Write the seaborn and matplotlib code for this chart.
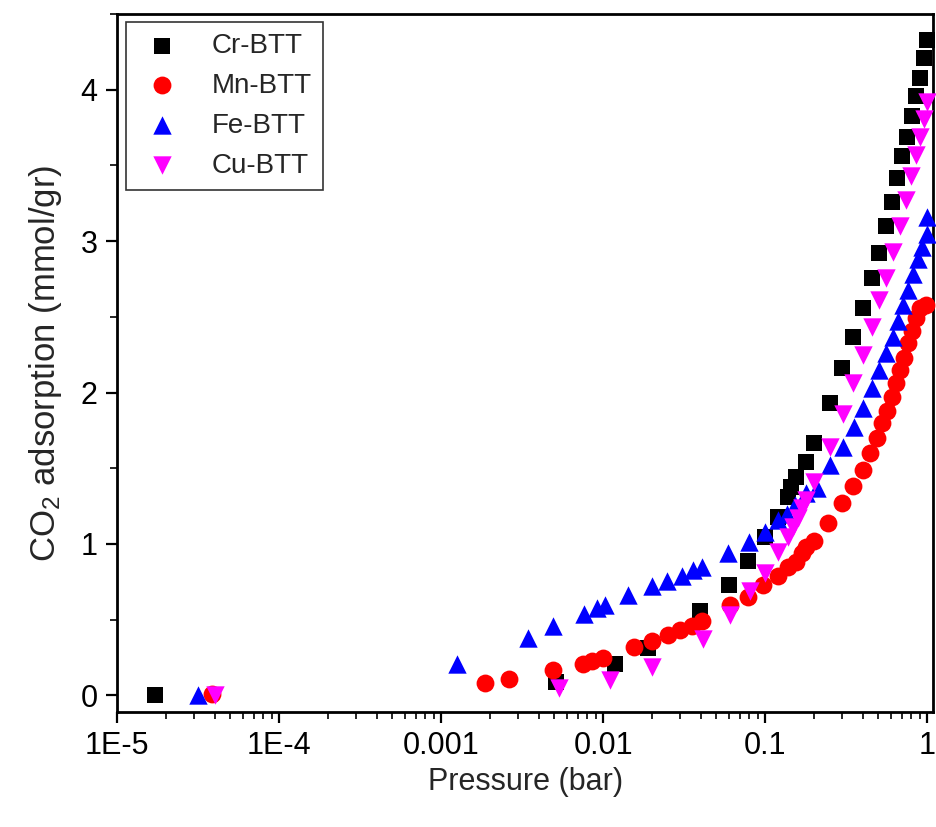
import numpy as np
import pandas as pd
import seaborn as sns
import matplotlib.pyplot as plt
from matplotlib.ticker import LogLocator, MultipleLocator, NullFormatter

# CO2 adsorption isotherms (pressure in bar, uptake in mmol/gr)
cr_p = [1.72e-5, 0.0051, 0.0119, 0.019, 0.0397, 0.060, 0.0785, 0.10, 0.12, 0.138, 0.145,
        0.156, 0.18, 0.20, 0.252, 0.299, 0.349, 0.403, 0.457, 0.506, 0.558, 0.608, 0.652,
        0.70, 0.75, 0.807, 0.855, 0.905, 0.955, 1.0]
cr_q = [0.0, 0.09, 0.205, 0.31, 0.555, 0.727, 0.885, 1.045, 1.18, 1.31, 1.375,
        1.44, 1.54, 1.665, 1.93, 2.16, 2.37, 2.56, 2.76, 2.92, 3.10, 3.26, 3.42,
        3.56, 3.69, 3.83, 3.96, 4.08, 4.21, 4.33]

mn_p = [3.85e-5, 0.00187, 0.00263, 0.0049, 0.0075, 0.0086, 0.010, 0.0155, 0.020, 0.025,
        0.0298, 0.0354, 0.041, 0.061, 0.0785, 0.097, 0.12, 0.138, 0.156, 0.17, 0.18, 0.20,
        0.245, 0.30, 0.35, 0.40, 0.445, 0.491, 0.527, 0.566, 0.608, 0.644, 0.681, 0.721,
        0.764, 0.807, 0.855, 0.905, 0.99]
mn_q = [0.01, 0.08, 0.105, 0.165, 0.21, 0.23, 0.25, 0.32, 0.36, 0.40,
        0.43, 0.46, 0.49, 0.60, 0.65, 0.73, 0.79, 0.85, 0.88, 0.94, 0.98, 1.02,
        1.14, 1.27, 1.38, 1.49, 1.60, 1.70, 1.80, 1.88, 1.97, 2.06, 2.15, 2.23,
        2.33, 2.41, 2.49, 2.56, 2.58]

fe_p = [3.16e-5, 0.00126, 0.00344, 0.0049, 0.00764, 0.00919, 0.0103, 0.0143, 0.020, 0.0248,
        0.0308, 0.036, 0.041, 0.059, 0.0796, 0.10, 0.12, 0.137, 0.153, 0.18, 0.21, 0.252,
        0.303, 0.354, 0.403, 0.457, 0.506, 0.558, 0.617, 0.662, 0.711, 0.764, 0.82, 0.88,
        0.93, 1.0, 1.0]
fe_q = [0.0, 0.21, 0.38, 0.46, 0.54, 0.575, 0.595, 0.66, 0.72, 0.755,
        0.79, 0.83, 0.85, 0.94, 1.01, 1.08, 1.16, 1.20, 1.26, 1.34, 1.37, 1.52,
        1.64, 1.77, 1.90, 2.03, 2.15, 2.26, 2.37, 2.47, 2.58, 2.68, 2.78, 2.88,
        2.96, 3.05, 3.16]

cu_p = [4.03e-5, 0.00534, 0.011, 0.020, 0.0414, 0.061, 0.0807, 0.10, 0.12, 0.138, 0.148,
        0.16, 0.17, 0.18, 0.20, 0.252, 0.303, 0.349, 0.403, 0.457, 0.506, 0.558, 0.617,
        0.68, 0.74, 0.80, 0.855, 0.905, 0.96, 1.0]
cu_q = [0.0, 0.05, 0.10, 0.19, 0.375, 0.53, 0.69, 0.81, 0.945, 1.045, 1.11,
        1.17, 1.235, 1.29, 1.41, 1.64, 1.86, 2.06, 2.25, 2.43, 2.61, 2.76, 2.93,
        3.10, 3.27, 3.43, 3.57, 3.69, 3.81, 3.92]

materials = ["Cr-BTT", "Mn-BTT", "Fe-BTT", "Cu-BTT"]
x_ticks = [1e-5, 1e-4, 1e-3, 1e-2, 1e-1, 1]
x_tick_labels = ["1E-5", "1E-4", "0.001", "0.01", "0.1", "1"]

df = pd.concat([
    pd.DataFrame({"p": cr_p, "q": cr_q, "material": "Cr-BTT"}),
    pd.DataFrame({"p": mn_p, "q": mn_q, "material": "Mn-BTT"}),
    pd.DataFrame({"p": fe_p, "q": fe_q, "material": "Fe-BTT"}),
    pd.DataFrame({"p": cu_p, "q": cu_q, "material": "Cu-BTT"}),
])

sns.set_theme(style="ticks")
plt.rcParams["font.family"] = ["Liberation Sans", "DejaVu Sans"]
plt.rcParams["mathtext.default"] = "regular"

palette = {"Cr-BTT": "#000000", "Mn-BTT": "#ff0000", "Fe-BTT": "#0000ff", "Cu-BTT": "#ff00ff"}
markers = {"Cr-BTT": "s", "Mn-BTT": "o", "Fe-BTT": "^", "Cu-BTT": "v"}
sizes = {"Cr-BTT": 140, "Mn-BTT": 165, "Fe-BTT": 175, "Cu-BTT": 175}

fig = plt.figure(figsize=(9.36, 8.27), dpi=100)
ax = fig.add_axes([0.125, 0.139, 0.872, 0.844])

for m in materials:
    sns.scatterplot(data=df[df["material"] == m], x="p", y="q", color=palette[m],
                    marker=markers[m], s=sizes[m], linewidth=0, label=m, ax=ax,
                    clip_on=False, zorder=3)

ax.set_xscale("log")
ax.set_xlim(1e-5, 1.09)
ax.set_ylim(-0.11, 4.5)
ax.set_xticks(x_ticks)
ax.set_xticklabels(x_tick_labels)
ax.xaxis.set_minor_locator(LogLocator(base=10, subs=np.arange(2, 10)))
ax.xaxis.set_minor_formatter(NullFormatter())
ax.yaxis.set_major_locator(MultipleLocator(1))
ax.yaxis.set_minor_locator(MultipleLocator(0.5))

for s in ax.spines.values():
    s.set_linewidth(2)
    s.set_color("black")
ax.tick_params(which="major", direction="out", length=8, width=1.6, labelsize=22,
               colors="black", pad=6)
ax.tick_params(which="minor", direction="out", length=5, width=1.4)
ax.tick_params(axis="y", which="both", right=False)
ax.tick_params(axis="x", which="both", top=False)

ax.set_xlabel("Pressure (bar)", fontsize=22, labelpad=4)
ax.set_ylabel("CO$_2$ adsorption (mmol/gr)", fontsize=25, labelpad=12)

leg = ax.legend(loc="upper left", bbox_to_anchor=(0.011, 0.989), fontsize=20,
                frameon=True, fancybox=False, edgecolor="black", handletextpad=0.9,
                borderpad=0.4, labelspacing=0.5, handlelength=1.8, borderaxespad=0)
leg.get_frame().set_linewidth(1.2)

fig.savefig("out.png", dpi=100)
